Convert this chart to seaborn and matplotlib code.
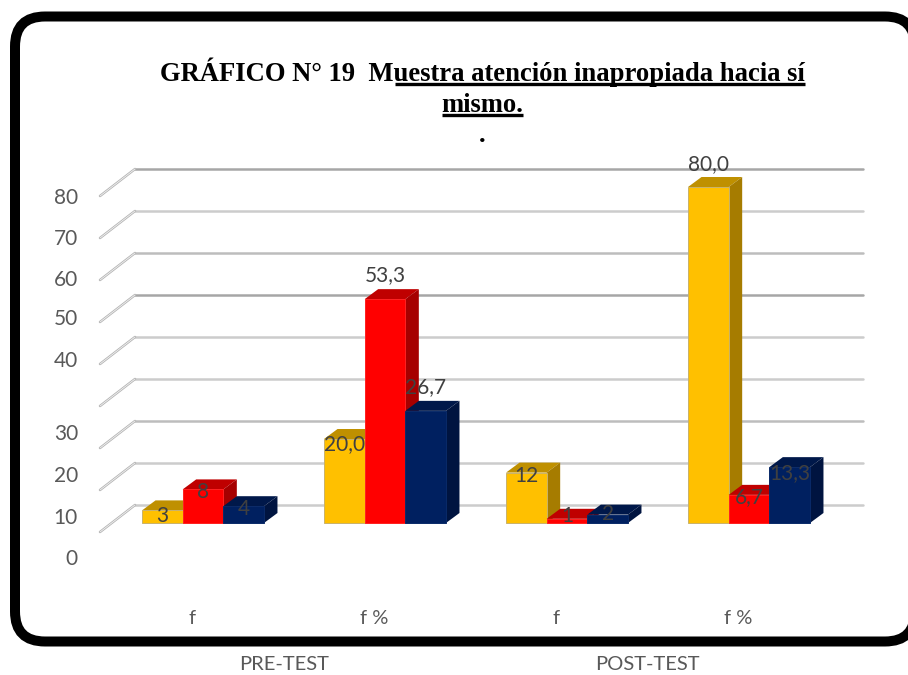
import pandas as pd
import matplotlib.pyplot as plt
import seaborn as sns
from matplotlib.patches import FancyBboxPatch, Polygon
from matplotlib.transforms import ScaledTranslation

# datos del grafico
grupos = ['pre_f', 'pre_fp', 'post_f', 'post_fp']
etiquetas_x = ['f', 'f %', 'f', 'f %']
etiquetas_periodo = ['PRE-TEST', 'POST-TEST']
series = ['Serie 1', 'Serie 2', 'Serie 3']
serie1 = [3, 20.0, 12, 80.0]
serie2 = [8, 53.3, 1, 6.7]
serie3 = [4, 26.7, 2, 13.3]
textos1 = ['3', '20,0', '12', '80,0']
textos2 = ['8', '53,3', '1', '6,7']
textos3 = ['4', '26,7', '2', '13,3']
ticks_y = [0, 10, 20, 30, 40, 50, 60, 70, 80]

# posicion vertical (pixeles) de las etiquetas del eje, como en el original
ticks_y_px = [559, 518, 476, 434, 361, 319, 280, 239, 198]
# desplazamiento de cada etiqueta de dato respecto al tope de la barra (pixeles)
ajuste1 = [-6, -5, -3, 23]
ajuste2 = [-3, 24, 3, -2]
ajuste3 = [-3, 24, 1, -6]

colores = ['#FFC000', '#FF0000', '#002060']
colores_top = ['#BF9000', '#BF0000', '#00184A']
colores_lado = ['#A67C00', '#A60000', '#001440']
colores_borde = ['#C9B26A', '#FF2020', '#0A2A68']
lineas = {0: '#cccccc', 10: '#cccccc', 20: '#bdbdbd', 30: '#cccccc', 40: '#cccccc',
          50: '#a6a6a6', 60: '#bdbdbd', 70: '#cccccc', 80: '#a6a6a6'}

W, H = 908, 675
PX_CAT = 182  # pixeles por categoria
PX_VAL = 4.2  # pixeles por unidad

df = pd.DataFrame({
    'grupo': grupos * 3,
    'serie': [s for s in series for _ in grupos],
    'valor': serie1 + serie2 + serie3,
})

sns.set_theme(style='white')
plt.rcParams['font.family'] = ['Lato', 'DejaVu Sans']

fig = plt.figure(figsize=(W / 100, H / 100), dpi=100)

# capa de fondo en pixeles: marco, titulo y textos sueltos
fondo = fig.add_axes([0, 0, 1, 1])
fondo.set_xlim(0, W)
fondo.set_ylim(H, 0)
fondo.axis('off')
fondo.add_patch(FancyBboxPatch((15, 16.5), 900, 625, boxstyle='round,pad=0,rounding_size=30',
                               fc='white', ec='black', lw=7.2))

titulo = dict(family='Liberation Serif', weight='bold', fontsize=19.2, color='black')
fondo.text(160, 81, 'GRÁFICO N° 19  Muestra atención inapropiada hacia sí', ha='left', va='baseline', **titulo)
fondo.text(482, 112, 'mismo.', ha='center', va='baseline', **titulo)
fondo.text(482, 142, '.', ha='center', va='baseline', **titulo)
fondo.plot([395, 805], [83.5, 83.5], color='black', lw=2.4, solid_capstyle='butt')
fondo.plot([442, 523], [114.5, 114.5], color='black', lw=2.4, solid_capstyle='butt')

for valor, y in zip(ticks_y, ticks_y_px):
    fondo.text(78, y, str(valor), ha='right', va='center', fontsize=15, color='#595959')
for texto, x in zip(etiquetas_periodo, [284, 647]):
    fondo.text(x, 664, texto, ha='center', va='center', fontsize=14.5, color='#595959')

# ejes principales: el plano frontal de las barras
ax = fig.add_axes([112 / W, 1 - 523 / H, 728 / W, 336 / H])
ax.patch.set_alpha(0)
sns.barplot(data=df, x='grupo', y='valor', hue='serie', order=grupos, hue_order=series,
            palette=colores, width=0.67, gap=0, saturation=1, legend=False,
            linewidth=0.7, ax=ax)
ax.set_xlim(-0.5, 3.5)
ax.set_ylim(0, 80)
ax.set_xlabel('')
ax.set_ylabel('')
sns.despine(ax=ax, left=True, bottom=True)
ax.set_yticks([])
ax.set_xticks(range(len(grupos)))
ax.set_xticklabels(etiquetas_x, fontsize=14.5, color='#595959')
ax.tick_params(axis='x', length=0, pad=63)
for lab in ax.get_xticklabels():
    lab.set_transform(lab.get_transform() + ScaledTranslation(-11 / 100, 0, fig.dpi_scale_trans))

# pared del fondo y lineas laterales (falso 3D)
pared_dx, pared_dy = 23 / PX_CAT, 18 / PX_VAL
suelo_dx, suelo_dy = -12 / PX_CAT, -9 / PX_VAL
for v in ticks_y:
    ax.plot([-0.5 + pared_dx, 3.5 + pared_dx], [v + pared_dy] * 2, color=lineas[v], lw=1.8,
            solid_capstyle='round', clip_on=False, zorder=1)
    diagonal_x = [-0.5 + suelo_dx, -0.5 + pared_dx]
    diagonal_y = [v + suelo_dy, v + pared_dy]
    ax.plot(diagonal_x, diagonal_y, color='#b4b4b4', lw=1.8, clip_on=False, zorder=1)
    ax.plot(diagonal_x, diagonal_y, color='#f2f2f2', lw=0.6, clip_on=False, zorder=1.1)

# caras superior y lateral de cada barra, de izquierda a derecha
prof_x, prof_y = 13.5 / PX_CAT, 10 / PX_VAL
zorder = 3
for i in range(len(grupos)):
    for j, barras in enumerate(ax.containers):
        barra = barras[i]
        x0, x1 = barra.get_x(), barra.get_x() + barra.get_width()
        alto = barra.get_height()
        ax.add_patch(Polygon([(x0, alto), (x1, alto), (x1 + prof_x, alto + prof_y), (x0 + prof_x, alto + prof_y)],
                             fc=colores_top[j], ec='none', clip_on=False, zorder=zorder))
        ax.add_patch(Polygon([(x1, 0), (x1 + prof_x, prof_y), (x1 + prof_x, alto + prof_y), (x1, alto)],
                             fc=colores_lado[j], ec='none', clip_on=False, zorder=zorder))
        barra.set_edgecolor(colores_borde[j])
        barra.set_zorder(zorder + 0.5)
        barra.set_clip_on(False)
        zorder += 1

# etiquetas de datos
textos = [textos1, textos2, textos3]
ajustes = [ajuste1, ajuste2, ajuste3]
for j, barras in enumerate(ax.containers):
    for i, barra in enumerate(barras):
        ax.annotate(textos[j][i], (barra.get_x() + barra.get_width() / 2, barra.get_height()),
                    xytext=(0, ajustes[j][i]), textcoords='offset pixels', ha='center', va='center',
                    fontsize=15, color='#404040', zorder=50, annotation_clip=False)

plt.savefig('out.png', dpi=100)
